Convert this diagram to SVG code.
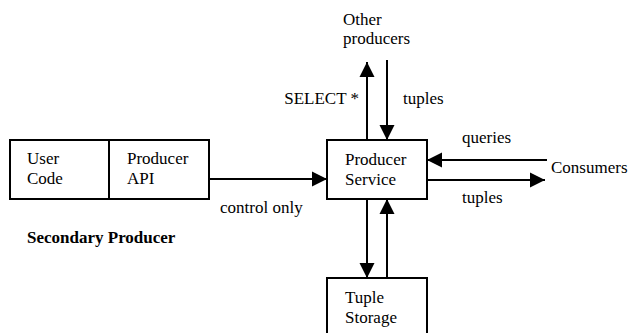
<svg xmlns="http://www.w3.org/2000/svg" width="629" height="333" viewBox="0 0 629 333">
<defs>
<style>
.t{font-family:'Liberation Serif','DejaVu Serif',serif;font-size:17px;fill:#000}
.b{fill:#fff;stroke:#000;stroke-width:2}
.c{stroke:#000;stroke-width:2;fill:none}
.bold{font-weight:bold;font-size:17px}
</style>
<marker id="ah" markerUnits="userSpaceOnUse" markerWidth="16" markerHeight="16" viewBox="0 0 16 16" refX="15" refY="8" orient="auto">
<path d="M0,0.5 L15,8 L0,15.5 Z" fill="#000"/>
</marker>
</defs>
<rect width="629" height="333" fill="#fff"/>
<g font-family="Liberation Serif, DejaVu Serif, serif" font-size="17" class="t">
<g id="user-code">
<rect class="b" x="10" y="140" width="99" height="59"/>
<text class="t" x="27" y="164">User</text>
<text class="t" x="27" y="184">Code</text>
</g>
<g id="producer-api">
<rect class="b" x="109" y="140" width="100" height="59"/>
<text class="t" x="127" y="164">Producer</text>
<text class="t" x="127" y="184">API</text>
</g>
<g id="producer-service">
<rect class="b" x="327" y="140" width="100" height="59"/>
<text class="t" x="345" y="165">Producer</text>
<text class="t" x="345" y="185">Service</text>
</g>
<g id="tuple-storage">
<rect class="b" x="327" y="278" width="100" height="60"/>
<text class="t" x="345" y="303">Tuple</text>
<text class="t" x="345" y="323">Storage</text>
</g>
<g id="other-producers">
<text class="t" x="343" y="25">Other</text>
<text class="t" x="343" y="44">producers</text>
</g>
<g id="consumers">
<text class="t" x="551" y="173">Consumers</text>
</g>
<text class="t bold" x="27" y="243">Secondary Producer</text>
<g id="connectors">
<line class="c" x1="209" y1="179" x2="327" y2="179" marker-end="url(#ah)"/>
<line class="c" x1="367" y1="140" x2="367" y2="62" marker-end="url(#ah)"/>
<line class="c" x1="387" y1="60" x2="387" y2="140" marker-end="url(#ah)"/>
<line class="c" x1="547" y1="160" x2="427" y2="160" marker-end="url(#ah)"/>
<line class="c" x1="427" y1="180" x2="545" y2="180" marker-end="url(#ah)"/>
<line class="c" x1="367" y1="199" x2="367" y2="278" marker-end="url(#ah)"/>
<line class="c" x1="387" y1="278" x2="387" y2="199" marker-end="url(#ah)"/>
<text class="t" x="220" y="213">control only</text>
<text class="t" x="359" y="104" text-anchor="end">SELECT *</text>
<text class="t" x="403" y="104">tuples</text>
<text class="t" x="462" y="143">queries</text>
<text class="t" x="462" y="203">tuples</text>
</g>
</g>
</svg>
